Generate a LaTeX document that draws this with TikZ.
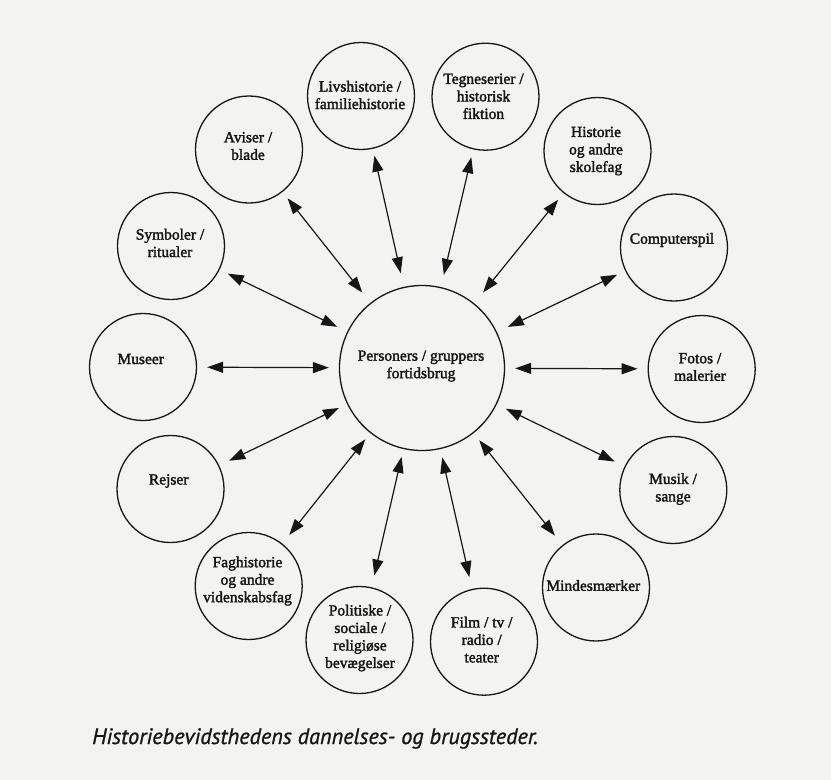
\documentclass[tikz,border=0pt]{standalone}
\usepackage{fontspec}
\setmainfont{Liberation Serif}
\newfontfamily\sitefont{Liberation Serif}[FakeBold=2]
\newfontfamily\capfont{PT Sans}[FakeBold=1]
\usetikzlibrary{arrows.meta}
\definecolor{paper}{RGB}{243,243,241}
\definecolor{ink}{RGB}{22,22,22}
\newcommand\sitesize{\fontsize{15.5pt}{17.5pt}\selectfont}
\tikzset{
  site/.style={circle, draw=ink, line width=1.3pt, minimum size=107pt, inner sep=0pt},
  hubsite/.style={site, minimum size=165pt},
  sitetext/.style={align=center, inner sep=0pt, text=ink, font=\sitefont\sitesize},
  tip/.tip={Triangle[length=16pt, width=11pt]},
  link/.style={draw=ink, line width=1.2pt, tip-tip},
  caption/.style={anchor=base west, inner sep=0pt, text=ink, font=\capfont\itshape\fontsize{22.3pt}{26pt}\selectfont}
}
\begin{document}
\begin{tikzpicture}[x=1pt, y=-1pt]
  \path[fill=paper] (0,0) rectangle (831,780);
  \useasboundingbox (0,0) rectangle (831,780);

  % central circle
  \node[hubsite] (hub) at (422,368) {};
  \node[sitetext] (hub-t) at (421,366) {Personers / gruppers\\fortidsbrug};

  % surrounding circles
  \node[site] (liv)   at (361,96)    {};
  \node[site] (teg)   at (485.5,96.7){};
  \node[site] (hist)  at (597.5,151) {};
  \node[site] (comp)  at (674,247.5) {};
  \node[site] (foto)  at (701.7,369) {};
  \node[site] (musik) at (673.3,490) {};
  \node[site] (minde) at (596,587.5) {};
  \node[site] (film)  at (484,641.7) {};
  \node[site] (pol)   at (359.5,640) {};
  \node[site] (fag)   at (248.7,586) {};
  \node[site] (rejs)  at (170.5,489) {};
  \node[site] (mus)   at (143,367)   {};
  \node[site] (sym)   at (171,246)   {};
  \node[site] (avis)  at (249,149.5) {};

  % their texts
  \node[sitetext] (liv-t)   at (360,95)    {Livshistorie /\\familiehistorie};
  \node[sitetext] (teg-t)   at (483.5,96.3){Tegneserier /\\historisk\\fiktion};
  \node[sitetext] (hist-t)  at (596,151)   {Historie\\og andre\\skolefag};
  \node[sitetext] (comp-t)  at (672,240)   {Computerspil};
  \node[sitetext] (foto-t)  at (700,367)   {Fotos /\\malerier};
  \node[sitetext] (musik-t) at (673,489)   {Musik /\\sange};
  \node[sitetext] (minde-t) at (593.3,585.5){Mindesmærker};
  \node[sitetext] (film-t)  at (481.7,639.6){Film / tv /\\radio /\\teater};
  \node[sitetext] (pol-t)   at (360,638)   {Politiske /\\sociale /\\religiøse\\bevægelser};
  \node[sitetext] (fag-t)   at (247.5,581) {Faghistorie\\og andre\\videnskabsfag};
  \node[sitetext] (rejs-t)  at (168.7,481) {Rejser};
  \node[sitetext] (mus-t)   at (140.7,359) {Museer};
  \node[sitetext] (sym-t)   at (170,243)   {Symboler /\\ritualer};
  \node[sitetext] (avis-t)  at (248,146)   {Aviser /\\blade};

  % double-headed connectors: name / gap at hub / gap at outer circle
  \foreach \n/\a/\b in {avis/13/8, liv/14/7, teg/12.5/8, hist/14/8.5, comp/12/9,
                        sym/11/9, mus/10/10, foto/10/10, rejs/9/11, musik/10/11,
                        fag/8/11, pol/8/12, film/8.5/12, minde/9/12}
    \draw[link, shorten <=\a pt, shorten >=\b pt] (hub) -- (\n);

  \node[caption] (cap) at (92,744) {Historiebevidsthedens dannelses- og brugssteder.};
\end{tikzpicture}
\end{document}
